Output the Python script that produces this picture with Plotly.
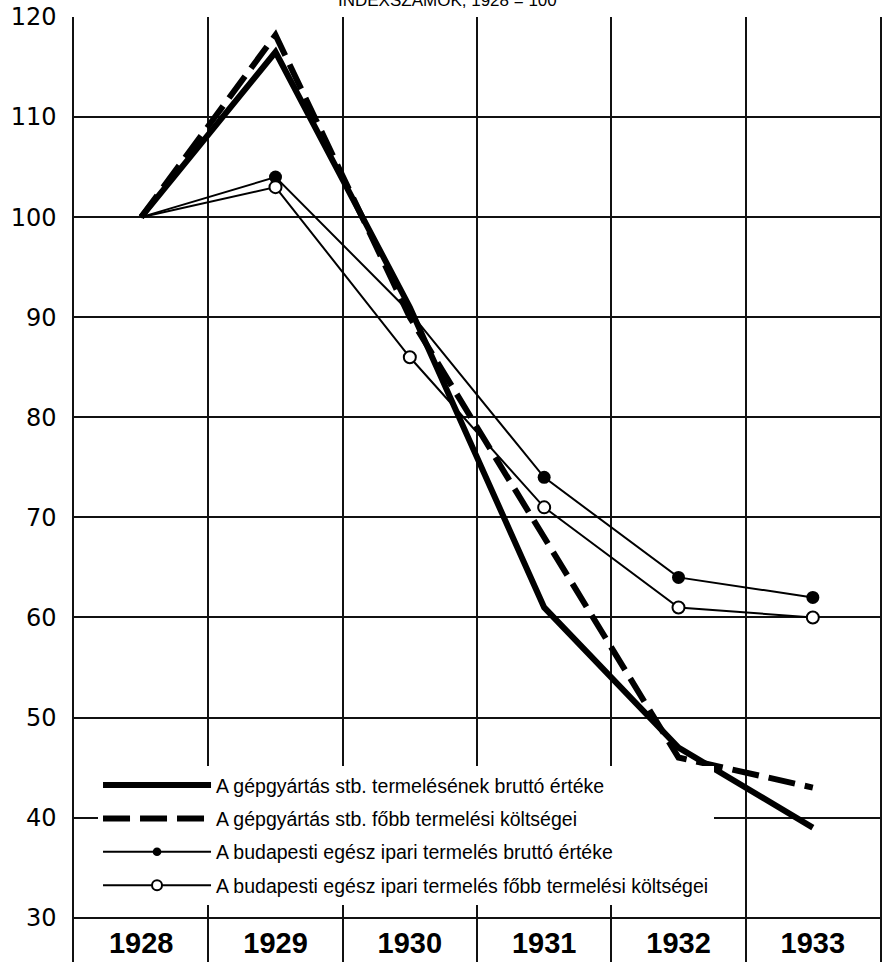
import plotly.graph_objects as go

years = ["1928", "1929", "1930", "1931", "1932", "1933"]
gep_brutto = [100, 116.5, 91, 61, 47, 39]
gep_koltseg = [100, 118.2, 90, 68, 46, 43]
bp_brutto = [100, 104, 90.5, 74, 64, 62]
bp_koltseg = [100, 103, 86, 71, 61, 60]
y_ticks = [30, 40, 50, 60, 70, 80, 90, 100, 110, 120]

name_gep_brutto = "A gépgyártás stb. termelésének bruttó értéke"
name_gep_koltseg = "A gépgyártás stb. főbb termelési költségei"
name_bp_brutto = "A budapesti egész ipari termelés bruttó értéke"
name_bp_koltseg = "A budapesti egész ipari termelés főbb termelési költségei"
title_text = "INDEXSZÁMOK, 1928 = 100"

NARROW = "Liberation Sans Narrow, Arial Narrow, sans-serif"

fig = go.Figure()

fig.add_trace(go.Scatter(
    x=years, y=bp_brutto, name=name_bp_brutto, mode="lines+markers",
    line=dict(color="black", width=2),
    marker=dict(color="black", size=[0, 13, 0, 13, 13, 13], opacity=1,
                line=dict(width=0)),
    legendgroup="c", legendrank=3,
))
fig.add_trace(go.Scatter(
    x=years, y=bp_koltseg, name=name_bp_koltseg, mode="lines+markers",
    line=dict(color="black", width=2),
    marker=dict(color="white", size=[0, 12, 12, 12, 12, 12], opacity=1,
                line=dict(color="black", width=2)),
    legendgroup="d", legendrank=4,
))
fig.add_trace(go.Scatter(
    x=years, y=gep_koltseg, name=name_gep_koltseg, mode="lines",
    line=dict(color="black", width=6, dash="27px,10px"),
    legendgroup="b", legendrank=2,
))
fig.add_trace(go.Scatter(
    x=years, y=gep_brutto, name=name_gep_brutto, mode="lines",
    line=dict(color="black", width=6),
    legendgroup="a", legendrank=1,
))

fig.add_annotation(
    text=title_text, xref="paper", yref="paper", x=0.4628, y=1,
    xanchor="center", yanchor="bottom", yshift=5, showarrow=False,
    font=dict(family=NARROW, size=17, color="black"),
)

fig.update_layout(
    width=883, height=962,
    margin=dict(l=74, r=3, t=17, b=0, pad=0),
    paper_bgcolor="white", plot_bgcolor="white",
    showlegend=True,
    legend=dict(
        x=0.0298, y=0.2075, xanchor="left", yanchor="top",
        bgcolor="white", borderwidth=0,
        font=dict(family=NARROW, size=19.5, color="black"),
        traceorder="grouped", tracegroupgap=5, itemwidth=108,
    ),
    xaxis=dict(
        type="category", range=[-0.5, 5.5], tickson="boundaries",
        showgrid=True, gridcolor="#111", gridwidth=1.5,
        ticks="", ticklabelposition="inside",
        tickfont=dict(family=NARROW, size=29, color="black", weight="bold"),
        showline=False, zeroline=False, automargin=False, fixedrange=True,
    ),
    yaxis=dict(
        range=[25.57, 120], tickvals=y_ticks,
        showgrid=True, gridcolor="#111", gridwidth=1.5,
        showline=True, mirror=True, linecolor="#111", linewidth=1.5,
        ticks="", ticklabelstandoff=11,
        tickfont=dict(family="DejaVu Sans", size=24, color="black"),
        zeroline=False, automargin=False, fixedrange=True,
    ),
)

fig.write_html("out.html", config={"displayModeBar": False},
               post_script="document.body.style.margin='0px';")
